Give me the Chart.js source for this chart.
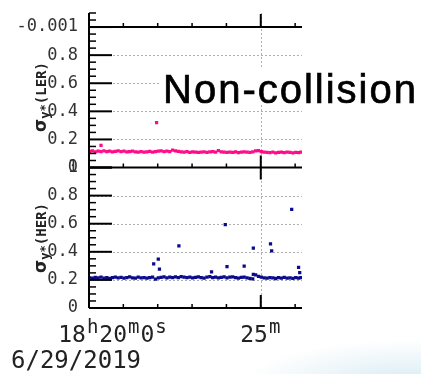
<!DOCTYPE html>
<html>
<head>
<meta charset="utf-8">
<script src="https://cdn.jsdelivr.net/npm/chart.js@4.4.1/dist/chart.umd.min.js"></script>
<style>
html, body { margin: 0; padding: 0; width: 421px; height: 374px; overflow: hidden; }
body { background: radial-gradient(ellipse 170px 45px at 410px 385px, #d3eaf3 0%, #e9f4f8 45%, rgba(255,255,255,0) 100%), #fff; }
canvas { display: block; }
</style>
</head>
<body>
<canvas id="c" width="421" height="374"></canvas>
<script>
// seconds after 18:20:00 (6/29/2019)
const baseTime = [1, 6, 11, 16, 21, 26, 31, 36, 41, 46, 51, 56, 61, 66, 71, 76, 81, 86, 91, 96,
    101, 106, 111, 116, 121, 126, 131, 136, 141, 146, 151, 156, 161, 166, 171, 176, 181, 186, 191, 196,
    201, 206, 211, 216, 221, 226, 231, 236, 241, 246, 251, 256, 261, 266, 271, 276, 281, 286, 291, 296,
    301, 306, 311, 316, 321, 326, 331, 336, 341, 346, 351, 356, 361, 366, 370];

const lerValue = [0.115, 0.118, 0.112, 0.116, 0.113, 0.119, 0.114, 0.117, 0.112, 0.115,
    0.118, 0.113, 0.116, 0.111, 0.114, 0.117, 0.112, 0.110, 0.113, 0.109,
    0.112, 0.115, 0.110, 0.113, 0.116, 0.119, 0.114, 0.117, 0.113, 0.124,
    0.118, 0.115, 0.112, 0.110, 0.113, 0.108, 0.111, 0.109, 0.107, 0.110,
    0.112, 0.108, 0.111, 0.114, 0.109, 0.120, 0.112, 0.109, 0.107, 0.110,
    0.108, 0.111, 0.106, 0.109, 0.112, 0.110, 0.107, 0.111, 0.118, 0.121,
    0.113, 0.110, 0.108, 0.106, 0.109, 0.105, 0.108, 0.110, 0.106, 0.109,
    0.107, 0.105, 0.108, 0.106, 0.109];
const lerOutTime = [21, 118];
const lerOutValue = [0.157, 0.32];

const herValue = [0.215, 0.212, 0.218, 0.214, 0.220, 0.213, 0.217, 0.211, 0.216, 0.219,
    0.214, 0.218, 0.212, 0.216, 0.221, 0.215, 0.213, 0.219, 0.214, 0.217,
    0.212, 0.216, 0.220, 0.206, 0.215, 0.218, 0.222, 0.214, 0.219, 0.216,
    0.221, 0.217, 0.224, 0.219, 0.216, 0.220, 0.214, 0.218, 0.222, 0.217,
    0.213, 0.219, 0.223, 0.216, 0.220, 0.214, 0.218, 0.221, 0.215, 0.219,
    0.222, 0.216, 0.213, 0.218, 0.220, 0.214, 0.211, 0.207, 0.235, 0.226,
    0.219, 0.215, 0.212, 0.217, 0.214, 0.210, 0.216, 0.213, 0.218, 0.212,
    0.215, 0.211, 0.217, 0.213, 0.216];
const herOutTime = [113, 121, 123, 157, 214, 238, 241, 271, 287, 287, 317, 319, 354, 366, 368];
const herOutValue = [0.314, 0.348, 0.276, 0.443, 0.257, 0.593, 0.295, 0.298, 0.426, 0.24, 0.457, 0.407, 0.702, 0.29, 0.252];

// axis labels
const xTickValues = [0, 300];
const xTickLabels = [['18', 'h', '20', 'm', '0', 's'], ['25', 'm']];
const dateLabel = '6/29/2019';
const panelNames = ['LER', 'HER'];
const noteText = 'Non-collision';

const xMax = 372;
const monoFont = '"DejaVu Sans Mono", monospace';

function points(times, values) {
    return times.map((t, i) => ({ x: t, y: values[i] }));
}

function drawSupLabel(ctx, parts, cx, baseY) {
    const fonts = ['23px ' + monoFont, '19px ' + monoFont];
    let w = 0;
    parts.forEach((p, i) => { ctx.font = fonts[i % 2]; w += ctx.measureText(p).width + 1; });
    let px = cx - w / 2;
    parts.forEach((p, i) => {
        ctx.font = fonts[i % 2];
        ctx.fillText(p, px, i % 2 ? baseY - 9 : baseY);
        px += ctx.measureText(p).width + 1;
    });
}

function drawYTitle(ctx, cx, cy, name) {
    ctx.save();
    ctx.translate(cx, cy);
    ctx.rotate(-Math.PI / 2);
    const parts = [['σ', 'bold 17px "DejaVu Sans"', 0], ['y*', 'bold 12px ' + monoFont, 3], ['(' + name + ')', 'bold 14px ' + monoFont, 0]];
    let w = 0;
    parts.forEach(p => { ctx.font = p[1]; w += ctx.measureText(p[0]).width; });
    let px = -w / 2;
    parts.forEach(p => {
        ctx.font = p[1];
        ctx.fillText(p[0], px, p[2]);
        px += ctx.measureText(p[0]).width;
    });
    ctx.restore();
}

const framePlugin = {
    id: 'frame',
    beforeDatasetsDraw(chart) {
        const { ctx, chartArea: a, scales } = chart;
        ctx.save();
        ctx.strokeStyle = '#b0b0b0';
        ctx.lineWidth = 1;
        ctx.setLineDash([2, 2]);
        ctx.beginPath();
        [scales.yT, scales.yB].forEach(s => {
            [0.2, 0.4, 0.6, 0.8].forEach(v => {
                const py = Math.round(s.getPixelForValue(v)) + 0.5;
                ctx.moveTo(a.left, py);
                ctx.lineTo(a.right, py);
            });
        });
        const gx = Math.round(scales.x.getPixelForValue(300)) + 0.5;
        ctx.moveTo(gx, a.top);
        ctx.lineTo(gx, a.bottom);
        ctx.stroke();
        ctx.restore();
    },
    afterDatasetsDraw(chart) {
        const { ctx, chartArea: a, scales } = chart;
        const { x, yT, yB } = scales;
        ctx.save();
        ctx.strokeStyle = '#000';

        // frame lines
        ctx.lineWidth = 2;
        ctx.beginPath();
        const lines = [yT.getPixelForValue(1), yT.getPixelForValue(0), yB.getPixelForValue(0)];
        lines.forEach(py => { ctx.moveTo(a.left, py); ctx.lineTo(a.right, py); });
        ctx.moveTo(a.left, a.top);
        ctx.lineTo(a.left, a.bottom);
        ctx.stroke();

        // y ticks pointing inward
        [yT, yB].forEach(s => {
            for (let k = 0; k * 0.05 <= s.max + 1e-9; k++) {
                const py = s.getPixelForValue(k * 0.05);
                const major = k % 4 === 0;
                ctx.lineWidth = major ? 2 : 1.5;
                ctx.beginPath();
                ctx.moveTo(a.left, py);
                ctx.lineTo(a.left + (major ? 23 : 7), py);
                ctx.stroke();
            }
        });

        // x ticks every minute
        for (let m = 1; m * 60 <= xMax; m++) {
            const px = x.getPixelForValue(m * 60);
            const major = m === 5;
            ctx.lineWidth = major ? 2 : 1.5;
            ctx.beginPath();
            if (major) {
                ctx.moveTo(px, lines[0]); ctx.lineTo(px, lines[0] - 13);
                ctx.moveTo(px, lines[1] - 12); ctx.lineTo(px, lines[1] + 12);
                ctx.moveTo(px, lines[2]); ctx.lineTo(px, lines[2] - 13);
            } else {
                lines.forEach(py => { ctx.moveTo(px, py); ctx.lineTo(px, py - 4); });
            }
            ctx.stroke();
        }

        // x labels
        ctx.fillStyle = '#222';
        ctx.textAlign = 'left';
        ctx.textBaseline = 'alphabetic';
        const shift = [24, 0];
        xTickValues.forEach((v, i) => {
            drawSupLabel(ctx, xTickLabels[i], x.getPixelForValue(v) + shift[i], a.bottom + 34);
        });
        ctx.font = '24px ' + monoFont;
        ctx.fillText(dateLabel, 11, a.bottom + 60);

        // panel titles
        drawYTitle(ctx, 46, 97, panelNames[0]);
        drawYTitle(ctx, 46, 238, panelNames[1]);

        // note
        ctx.fillStyle = '#fff';
        ctx.fillRect(160, 68, 261, 36);
        ctx.fillStyle = '#000';
        ctx.strokeStyle = '#000';
        ctx.lineWidth = 0.7;
        ctx.font = '40px "Liberation Sans", Arial, sans-serif';
        ctx.letterSpacing = '2px';
        ctx.fillText(noteText, 163, 103);
        ctx.strokeText(noteText, 163, 103);
        ctx.restore();
    }
};

function yAxis(weight, max, topLabel) {
    return {
        type: 'linear',
        position: 'left',
        stack: 'panels',
        stackWeight: weight,
        min: 0,
        max: max,
        grid: { display: false },
        border: { display: false },
        ticks: {
            stepSize: 0.2,
            includeBounds: false,
            autoSkip: false,
            padding: 3,
            color: '#333',
            font: { family: monoFont, size: 17, lineHeight: 1 },
            callback: v => {
                const r = Math.round(v * 10) / 10;
                if (r === 1) return topLabel;
                if (r === 0) return '0';
                return r.toFixed(1);
            }
        },
        afterFit: s => { s.width = 89; }
    };
}

new Chart(document.getElementById('c'), {
    type: 'scatter',
    data: {
        datasets: [{
            label: 'LER',
            data: points(baseTime, lerValue).concat(points(lerOutTime, lerOutValue)),
            yAxisID: 'yT',
            backgroundColor: '#ff0a88',
            borderWidth: 0,
            pointStyle: 'rect',
            pointRadius: 2.3
        }, {
            label: 'HER',
            data: points(baseTime, herValue).concat(points(herOutTime, herOutValue)),
            yAxisID: 'yB',
            backgroundColor: '#0a0a8c',
            borderWidth: 0,
            pointStyle: 'rect',
            pointRadius: 2.3
        }]
    },
    options: {
        responsive: false,
        animation: false,
        devicePixelRatio: 1,
        layout: { padding: { left: 0, top: 13, right: 119, bottom: 66 } },
        plugins: { legend: { display: false }, tooltip: { enabled: false } },
        scales: {
            x: { type: 'linear', min: 0, max: xMax, display: false },
            yB: yAxis(1, 1, '1'),
            yT: yAxis(1.1, 1.1, '-0.001')
        }
    },
    plugins: [framePlugin]
});
</script>
</body>
</html>
